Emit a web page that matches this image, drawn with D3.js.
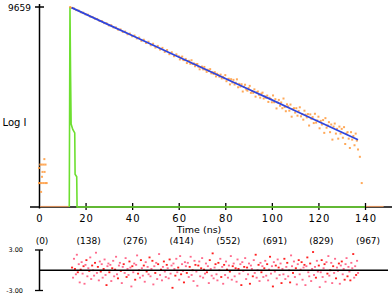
<!DOCTYPE html>
<html><head><meta charset="utf-8">
<script src="https://cdn.jsdelivr.net/npm/d3@7"></script>
<style>html,body{margin:0;padding:0;background:#fff;} svg{display:block}</style>
</head><body>
<svg id="chart" width="392" height="294"></svg>
<script>
// ---------- data ----------
const xTicks = [0, 20, 40, 60, 80, 100, 120, 140];
const channelLabels = ["(0)", "(138)", "(276)", "(414)", "(552)", "(691)", "(829)", "(967)"];
const yAxisLabel = "Log I";
const xAxisLabel = "Time (ns)";
const peakCount = 9659;
const residualTicks = [3, -3];
const residualTickLabels = ["3.00", "-3.00"];

// fitted decay (blue)
const fitT = [14, 20, 30, 40, 50, 60, 70, 80, 90, 100, 110, 120, 130, 137];
const fitCounts = [9378, 6979, 4264, 2606, 1592, 973, 594, 363, 222, 136, 82.8, 50.6, 30.9, 21.9];

// instrument response (green)
const irfT = [13.0, 13.3, 13.55, 13.8, 14.5, 15.35, 15.5, 16.2, 16.35, 140];
const irfCounts = [1, 9659, 480, 45, 35, 30, 4.5, 4, 1, 1];

// measured decay (orange)
const prePulse = [[2.3, 9], [0.5, 7], [1.2, 7], [2.0, 7], [2.8, 7], [0, 6], [1.5, 5], [2.4, 5], [1.3, 4],
  [0, 3], [0.4, 3], [1.2, 3], [2.0, 3], [2.8, 3], [3.3, 3], [0.9, 2]];
const decayEarly = [[13.4, 9659], [14, 9250], [15, 9050], [16, 8380], [17, 8210], [18, 7580], [19, 7460], [20, 6900],
  [21, 6790], [22, 6210], [23, 6110], [24, 5650], [25, 5580], [26, 5090], [27, 5060], [28, 4610], [29, 4590],
  [30, 4150], [31, 4190], [32, 3780], [33, 3790], [34, 3410], [35, 3460], [36, 3080], [37, 3130], [38, 2770],
  [39, 2850], [40, 2520], [41, 2610], [42, 2280], [43, 2370], [44, 2040], [45, 2150], [46, 1850], [47, 1960],
  [48, 1670], [49, 1790], [50, 1500], [51, 1620], [52, 1370], [53, 1480], [54, 1230], [55, 1340], [56, 1110],
  [57, 1210], [58, 1010], [59, 1100]];
const decayLateStart = 60, decayLateStep = 0.5;
const decayLate = [
  1005, 872, 944, 993, 845, 847, 892, 738, 804, 817, 713, 839, 708, 725, 638, 699, 707, 622, 554, 616,
  627, 552, 618, 547, 492, 543, 512, 558, 461, 485, 448, 485, 400, 451, 426, 394, 434, 364, 392, 367,
  424, 321, 349, 359, 277, 352, 302, 341, 276, 299, 350, 243, 284, 251, 279, 200, 249, 273, 220, 208,
  235, 259, 188, 205, 188, 221, 158, 194, 200, 172, 151, 181, 190, 145, 160, 150, 166, 124, 150, 142,
  122, 167, 122, 141, 92, 121, 136, 104, 121, 93, 145, 98, 81, 111, 101, 83, 110, 63, 89, 93,
  76, 93, 66, 82, 97, 64, 71, 55, 83, 69, 61, 71, 42, 70, 57, 62, 47, 72, 48, 53,
  63, 37, 52, 44, 54, 30, 59, 38, 42, 49, 31, 44, 22, 40, 46, 29, 36, 23, 40, 29,
  36, 24, 39, 18, 29, 31, 23, 15, 31, 22, 26, 17, 29, 21, 14];
const tailPoints = [[137.8, 10], [138.6, 3]];
const zeroSpans = [[0, 13], [140, 148]];

// weighted residuals (red)
const residualStart = 14.2, residualEnd = 137;
const residuals = [
  0.4,-1.1,1.7,0.2,-0.6,2.3,-0.3,0.9,-1.8,0.1,1.2,-0.5,0.6,-2.0,0.8,1.5,-0.9,0.3,-0.1,1.9,
  -1.3,0.7,0.0,-0.8,1.1,2.6,-0.4,0.5,-1.5,1.3,-0.2,0.9,-1.1,0.2,1.6,-0.7,-2.2,0.6,1.0,-0.3,
  0.8,-1.6,0.3,1.4,-0.9,0.1,2.0,-0.6,-1.2,0.7,1.1,-0.1,-1.9,0.5,0.9,-0.4,1.8,-1.0,0.2,-0.7,
  1.3,0.4,-2.4,0.6,-0.3,1.0,-1.4,0.8,2.2,-0.5,0.0,-1.1,1.5,0.3,-0.8,0.7,-1.7,1.2,-0.2,0.5,
  -0.6,1.9,-0.9,0.2,1.4,-2.1,0.6,-0.4,1.1,-1.3,0.9,2.4,-0.7,0.1,-1.5,0.5,1.3,-0.2,-1.0,0.8,
  0.3,-1.2,1.6,-0.5,0.7,-2.6,1.0,0.2,-0.8,1.7,-0.3,0.4,-1.4,2.1,-0.6,0.9,-0.1,-1.8,1.2,0.6,
  -0.4,1.1,-1.0,0.5,2.0,-0.7,0.0,-1.6,1.4,0.8,-0.2,-2.3,0.7,1.3,-0.9,0.3,1.8,-1.1,0.1,-0.5,
  1.0,-0.3,0.6,-1.9,1.5,0.2,-0.8,2.5,-1.2,0.4,0.9,-0.6,-1.5,1.1,0.0,1.7,-1.0,0.5,-2.0,0.8,
  -0.7,1.3,0.1,-1.1,0.7,-0.2,2.1,-1.4,0.6,1.0,-0.9,0.3,-1.7,1.6,0.2,-0.5,0.9,-2.2,1.2,-0.1,
  0.5,1.8,-1.3,0.4,-0.6,1.0,-2.0,0.7,0.2,-0.9,1.5,-0.4,2.3,-1.1,0.0,0.8,-1.6,1.1,-0.3,0.6,
  -1.0,0.3,1.4,-0.8,0.9,-1.5,0.1,2.0,-0.5,0.6,-2.4,1.2,-0.2,0.7,-1.2,1.6,0.4,-0.7,1.0,-1.9,
  0.2,-0.6,1.7,-1.3,0.5,1.1,-0.9,0.0,-1.8,2.2,0.6,-0.4,1.3,-1.0,0.3,-2.1,0.9,1.5,-0.6,0.1,
  1.2,-1.4,0.4,0.8,-2.2,0.6,1.9,-0.3,-0.9,1.0,-1.6,0.2,2.7,-0.7,0.5,-1.1,1.4,-0.2,0.7,-2.5,
  -0.3,1.5,-1.0,0.3,0.9,-1.7,1.2,-0.5,2.1,-0.8,0.0,1.1,-1.9,0.6,-0.4,1.7,-1.2,0.4,-0.1,1.0,
  -2.0,0.7,1.3,-0.6,0.2,-1.4,0.9,1.8,-0.9,0.5,-0.2,-1.5,1.1,0.3,2.4,-1.1,0.6,-0.7,1.4,-0.4];

// ---------- drawing ----------
const FONT = "DejaVu Sans, Verdana, sans-serif";
const svg = d3.select("#chart");
const x = d3.scaleLinear().domain([0, 140]).range([39, 365]);
const y = d3.scaleLog().domain([1, peakCount]).range([207, 7]).clamp(true);
const r = d3.scaleLinear().domain([-3, 3]).range([290.5, 250]);
const yc = c => y(Math.max(1, c));

// main axes
svg.append("line").attr("x1", 30).attr("x2", 392).attr("y1", y(1)).attr("y2", y(1))
  .attr("stroke", "#000").attr("stroke-width", 1.5);
svg.append("line").attr("x1", 39.5).attr("x2", 39.5).attr("y1", y(peakCount) - 3).attr("y2", y(1) + 1.5)
  .attr("stroke", "#000").attr("stroke-width", 1.5);
svg.append("line").attr("x1", 35).attr("x2", 44).attr("y1", y(peakCount)).attr("y2", y(peakCount))
  .attr("stroke", "#000").attr("stroke-width", 1.5);

const xAxis = d3.axisBottom(x).tickValues(xTicks).tickSize(3).tickPadding(5).tickFormat(d3.format("d"));
const gx = svg.append("g").attr("transform", `translate(0,${y(1)})`).call(xAxis);
gx.select(".domain").remove();
gx.selectAll(".tick line").attr("y1", -4).attr("y2", 3).attr("stroke", "#000").attr("stroke-width", 1.3)
  .filter(d => d === 0).remove();
gx.selectAll(".tick text").attr("font-family", FONT).attr("font-size", 10).attr("fill", "#000")
  .attr("letter-spacing", 1).attr("dx", 0.5);

svg.append("text").attr("x", 2.5).attr("y", 126).attr("font-family", FONT).attr("font-size", 10)
  .attr("fill", "#000").text(yAxisLabel);
svg.append("text").attr("x", 31).attr("y", y(peakCount) + 3.5).attr("text-anchor", "end")
  .attr("font-family", FONT).attr("font-size", 9).attr("fill", "#000").text(String(peakCount));
svg.append("text").attr("x", 199).attr("y", 233).attr("text-anchor", "middle")
  .attr("font-family", FONT).attr("font-size", 9.5).attr("fill", "#000").text(xAxisLabel);

// zero-count samples along the baseline
zeroSpans.forEach(s => {
  svg.append("line").attr("x1", x(s[0]) + 1).attr("x2", x(s[1])).attr("y1", y(1) - 0.5).attr("y2", y(1) - 0.5)
    .attr("stroke", "#f7a060").attr("stroke-width", 1.2).attr("opacity", 0.8);
});

// IRF
svg.append("path")
  .datum(irfT.map((t, i) => [t, irfCounts[i]]))
  .attr("d", d3.line().x(d => x(d[0])).y(d => yc(d[1])))
  .attr("fill", "none").attr("stroke", "#6ddf30").attr("stroke-width", 1.6);

// measured decay
const decayPts = prePulse.concat(decayEarly, decayLate.map((c, i) => [decayLateStart + i * decayLateStep, c]), tailPoints);
svg.append("g").selectAll("rect").data(decayPts).join("rect")
  .attr("x", d => x(d[0]) - 1).attr("y", d => yc(d[1]) - 1).attr("width", 2).attr("height", 2)
  .attr("fill", "#ff9a3c").attr("opacity", 0.85);

// fit
svg.append("path")
  .datum(fitT.map((t, i) => [t, fitCounts[i]]))
  .attr("d", d3.line().x(d => x(d[0])).y(d => y(d[1])))
  .attr("fill", "none").attr("stroke", "#2f45dd").attr("stroke-width", 1.8);

// channel labels
svg.append("g").selectAll("text").data(channelLabels).join("text")
  .attr("x", (d, i) => x(xTicks[i]) + 3).attr("y", 244).attr("text-anchor", "middle")
  .attr("font-family", FONT).attr("font-size", 9).attr("fill", "#000").text(d => d);

// residual panel
const rStep = (residualEnd - residualStart) / (residuals.length - 1);
svg.append("g").selectAll("rect").data(residuals).join("rect")
  .attr("x", (d, i) => x(residualStart + i * rStep) - 1).attr("y", d => r(d) - 0.9)
  .attr("width", 2).attr("height", 1.8)
  .attr("fill", (d, i) => i % 3 === 0 ? "#ff2020" : "#ff6a8c");
svg.append("line").attr("x1", 39).attr("x2", 388).attr("y1", r(0)).attr("y2", r(0))
  .attr("stroke", "#000").attr("stroke-width", 1.3);
svg.append("line").attr("x1", 39.5).attr("x2", 39.5).attr("y1", r(3)).attr("y2", r(-3))
  .attr("stroke", "#000").attr("stroke-width", 1.5);
residualTicks.forEach((v, i) => {
  svg.append("line").attr("x1", 35).attr("x2", 43).attr("y1", r(v)).attr("y2", r(v))
    .attr("stroke", "#000").attr("stroke-width", 1.3);
  svg.append("text").attr("x", 23).attr("y", r(v) + 2.2).attr("text-anchor", "end")
    .attr("font-family", FONT).attr("font-size", 6.5).attr("fill", "#000").text(residualTickLabels[i]);
});
</script>
</body></html>
